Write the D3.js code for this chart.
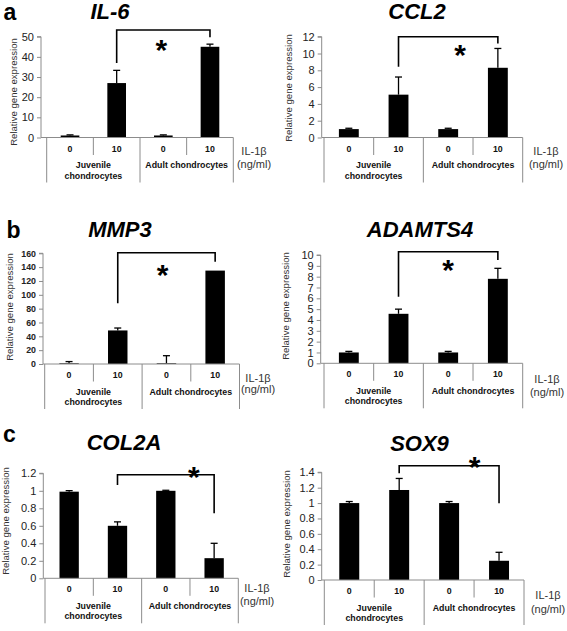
<!DOCTYPE html>
<html>
<head>
<meta charset="utf-8">
<script src="https://cdn.jsdelivr.net/npm/d3@7"></script>
<style>
  html, body { margin: 0; padding: 0; background: #fff; }
  svg { display: block; font-family: "Liberation Sans", Arial, Helvetica, sans-serif; }
</style>
</head>
<body>
<svg id="chart" width="567" height="631"></svg>
<script>
// ---------------- data ----------------
const categories = ["0", "10", "0", "10"];
const groupLabels = [["Juvenile", "chondrocytes"], ["Adult chondrocytes"]];
const unitLabels = ["IL-1β", "(ng/ml)"];
const yLabel = "Relative gene expression";
const panelLetters = ["a", "b", "c"];

const il6Values = [1, 27, 1, 45];
const il6Errors = [0.3, 6.3, 0.3, 1.3];
const il6Ticks = [0, 10, 20, 30, 40, 50];

const ccl2Values = [1, 5.1, 1, 8.3];
const ccl2Errors = [0.1, 2.1, 0.1, 2.3];
const ccl2Ticks = [0, 2, 4, 6, 8, 10, 12];

const mmp3Values = [1, 48.5, 1, 135];
const mmp3Errors = [2.5, 3.5, 11, 0];
const mmp3Ticks = [0, 20, 40, 60, 80, 100, 120, 140, 160];

const adamts4Values = [1, 4.57, 1, 7.8];
const adamts4Errors = [0.1, 0.43, 0.1, 0.97];
const adamts4Ticks = [0, 1, 2, 3, 4, 5, 6, 7, 8, 9, 10];

const col2aValues = [0.99, 0.6, 1.0, 0.23];
const col2aErrors = [0.012, 0.045, 0.006, 0.17];
const col2aTicks = [0, 0.2, 0.4, 0.6, 0.8, 1, 1.2];

const sox9Values = [1.0, 1.17, 1.0, 0.25];
const sox9Errors = [0.02, 0.15, 0.02, 0.11];
const sox9Ticks = [0, 0.2, 0.4, 0.6, 0.8, 1, 1.2, 1.4];

// significance brackets (in data units): from bar 1 to bar 3
const bracketTop   = [53.3, 12.0, 160.8, 10.3, 1.183, 1.486];
const bracketLeft  = [37.0, 8.43, 87.7, 6.15, 1.066, 1.387];
const bracketRight = [49.7, 11.2, 147.8, 9.54, 0.743, 0.997];
const starLevel    = [46.9, 10.6, 138.7, 9.26, 1.24, 1.56];

// ---------------- layout (positions) ----------------
const panels = [
  { gene: "IL-6", values: il6Values, errors: il6Errors, ticks: il6Ticks, bold: false,
    axisX: 41, bandL: 46.7, bandR: 233.3, yTop: 36.7, yBot: 137.5,
    titleX: 110, titleY: 18.5, ylabX: 16.5, ylabY: 92, unitX: 254, unitY: [155, 167.5],
    starFrac: 0.48, letter: 0, letterX: 3.5, letterY: 20 },
  { gene: "CCL2", values: ccl2Values, errors: ccl2Errors, ticks: ccl2Ticks, bold: false,
    axisX: 321.7, bandL: 324, bandR: 522.7, yTop: 36.7, yBot: 137.5,
    titleX: 417, titleY: 18.5, ylabX: 291.5, ylabY: 88, unitX: 546, unitY: [155, 168],
    starFrac: 0.62, letter: -1 },
  { gene: "MMP3", values: mmp3Values, errors: mmp3Errors, ticks: mmp3Ticks, bold: true,
    axisX: 43, bandL: 44.7, bandR: 239.5, yTop: 253.3, yBot: 364,
    titleX: 120, titleY: 237.3, ylabX: 13.3, ylabY: 307, unitX: 258, unitY: [381.7, 393],
    starFrac: 0.46, letter: 1, letterX: 6.5, letterY: 238 },
  { gene: "ADAMTS4", values: adamts4Values, errors: adamts4Errors, ticks: adamts4Ticks, bold: false,
    axisX: 320.7, bandL: 324, bandR: 522.7, yTop: 255, yBot: 363.3,
    titleX: 420, titleY: 237.3, ylabX: 289, ylabY: 306, unitX: 547, unitY: [383, 395.5],
    starFrac: 0.5, letter: -1 },
  { gene: "COL2A", values: col2aValues, errors: col2aErrors, ticks: col2aTicks, bold: false,
    axisX: 43.3, bandL: 45, bandR: 238.3, yTop: 473.3, yBot: 578.3,
    titleX: 124, titleY: 450, ylabX: 9, ylabY: 521, unitX: 257, unitY: [592, 604.5],
    starFrac: 0.79, letter: 2, letterX: 3, letterY: 442 },
  { gene: "SOX9", values: sox9Values, errors: sox9Errors, ticks: sox9Ticks, bold: false,
    axisX: 321.7, bandL: 324.3, bandR: 524, yTop: 472.3, yBot: 580,
    titleX: 419.5, titleY: 451, ylabX: 290, ylabY: 524, unitX: 548, unitY: [599, 613],
    starFrac: 0.755, letter: -1 }
];

const svg = d3.select("#chart");
const axisColor = "#8c8c8c";

panels.forEach((p, pi) => {
  const g = svg.append("g");
  const yMax = p.ticks[p.ticks.length - 1];
  const y = d3.scaleLinear().domain([0, yMax]).range([p.yBot, p.yTop]);
  const x = d3.scaleBand().domain(d3.range(categories.length)).range([p.bandL, p.bandR]).padding(0);
  const bw = x.bandwidth() * 0.4;
  const cx = i => x(i) + x.bandwidth() / 2;

  // letter
  if (p.letter >= 0) {
    g.append("text").attr("x", p.letterX).attr("y", p.letterY)
      .attr("font-size", 23).attr("font-weight", "bold").attr("fill", "#000")
      .text(panelLetters[p.letter]);
  }
  // title
  g.append("text").attr("x", p.titleX).attr("y", p.titleY)
    .attr("text-anchor", "middle").attr("font-size", 22)
    .attr("font-weight", "bold").attr("font-style", "italic").attr("fill", "#000")
    .text(p.gene);

  // y axis via d3.axisLeft
  const yAxis = d3.axisLeft(y).tickValues(p.ticks).tickSize(4).tickPadding(3)
    .tickFormat(d3.format("~g"));
  const ag = g.append("g").attr("transform", `translate(${p.axisX},0)`).call(yAxis);
  ag.select(".domain").attr("stroke", axisColor).attr("d", `M-4,${p.yTop}H0V${p.yBot}`);
  ag.selectAll(".tick line").attr("stroke", axisColor);
  ag.selectAll(".tick text")
    .attr("font-family", '"Liberation Sans", Arial, sans-serif')
    .attr("font-size", p.bold ? 8.8 : 11)
    .attr("font-weight", p.bold ? "bold" : "normal")
    .attr("fill", "#222");

  // y label
  g.append("text").attr("transform", `translate(${p.ylabX},${p.ylabY}) rotate(-90)`)
    .attr("text-anchor", "middle").attr("font-size", 9.6).attr("fill", "#333")
    .text(yLabel);

  // bars
  g.selectAll("rect.bar").data(p.values).enter().append("rect")
    .attr("x", (d, i) => cx(i) - bw / 2)
    .attr("y", d => y(d))
    .attr("width", bw)
    .attr("height", d => y(0) - y(d))
    .attr("fill", "#000");

  // error bars (upper only)
  p.errors.forEach((e, i) => {
    if (e <= 0) return;
    const x0 = cx(i), yv = y(p.values[i]), ye = y(p.values[i] + e);
    g.append("line").attr("x1", x0).attr("x2", x0).attr("y1", yv).attr("y2", ye)
      .attr("stroke", "#000").attr("stroke-width", 1.3);
    g.append("line").attr("x1", x0 - 3.5).attr("x2", x0 + 3.5).attr("y1", ye).attr("y2", ye)
      .attr("stroke", "#000").attr("stroke-width", 1.3);
  });

  // category table
  const y0 = p.yBot;
  g.append("line").attr("x1", p.axisX).attr("x2", p.bandR).attr("y1", y0).attr("y2", y0)
    .attr("stroke", axisColor);
  const bounds = [p.bandL, x(1), x(2), x(3), p.bandR];
  bounds.forEach((bx, k) => {
    const long = (k === 0 || k === 2 || k === 4);
    g.append("line").attr("x1", bx).attr("x2", bx).attr("y1", y0)
      .attr("y2", y0 + (long ? 45 : 17.5)).attr("stroke", axisColor);
  });
  categories.forEach((c, i) => {
    g.append("text").attr("x", cx(i)).attr("y", y0 + 14)
      .attr("text-anchor", "middle").attr("font-size", 8.8).attr("font-weight", "bold")
      .attr("fill", "#111").text(c);
  });
  groupLabels.forEach((lines, gi) => {
    const gx = (bounds[gi * 2] + bounds[gi * 2 + 2]) / 2;
    lines.forEach((ln, li) => {
      g.append("text").attr("x", gx).attr("y", y0 + 30.5 + li * 10.5)
        .attr("text-anchor", "middle").attr("font-size", 8.8).attr("font-weight", "bold")
        .attr("fill", "#111").text(ln);
    });
  });
  unitLabels.forEach((u, ui) => {
    g.append("text").attr("x", p.unitX).attr("y", p.unitY[ui])
      .attr("text-anchor", "middle").attr("font-size", 11).attr("fill", "#333").text(u);
  });

  // significance bracket
  const bx1 = cx(1), bx2 = cx(3);
  const by = y(bracketTop[pi]);
  g.append("path")
    .attr("d", `M${bx1},${y(bracketLeft[pi])}V${by}H${bx2}V${y(bracketRight[pi])}`)
    .attr("fill", "none").attr("stroke", "#000").attr("stroke-width", 1.6);
  const sx = bx1 + (bx2 - bx1) * p.starFrac;
  g.append("text").attr("x", sx).attr("y", y(starLevel[pi]) + 17)
    .attr("text-anchor", "middle").attr("font-size", 30).attr("font-weight", "bold")
    .attr("fill", "#000").text("*");
});
</script>
</body>
</html>
